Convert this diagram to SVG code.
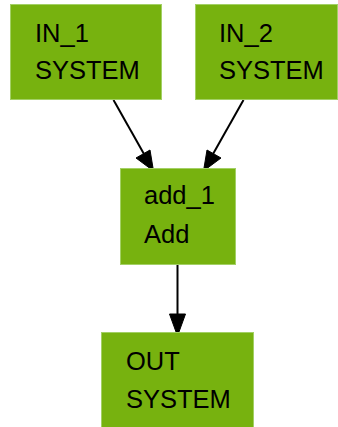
<svg xmlns="http://www.w3.org/2000/svg" width="338" height="427" viewBox="0 0 338 427">
<defs>
<style>
.node rect{fill:#77b20f;stroke:#a3d065;stroke-width:1}
.node text{font-family:"Liberation Sans",Arial,sans-serif;font-size:25.5px;fill:#000}
.edge{stroke:#000;stroke-width:2;fill:none}
.head{fill:#000;stroke:#000;stroke-width:1}
</style>
</defs>
<rect x="0" y="0" width="338" height="427" fill="#fff"/>
<g id="connectors">
<g id="e1"><line class="edge" x1="113.5" y1="100" x2="144" y2="154"/><polygon class="head" points="153.5,171 136,158 150,150"/></g>
<g id="e2"><line class="edge" x1="243.5" y1="100" x2="213" y2="154"/><polygon class="head" points="203.5,171 207,150 221,158"/></g>
<g id="e3"><line class="edge" x1="177.5" y1="265" x2="177.5" y2="316"/><polygon class="head" points="177.5,336 169.5,314 185.5,314"/></g>
</g>
<g id="IN_1" class="node"><rect x="10.5" y="4.5" width="151" height="95"/><text x="35" y="42">IN_1</text><text x="35" y="79">SYSTEM</text></g>
<g id="IN_2" class="node"><rect x="195.5" y="4.5" width="142" height="95"/><text x="219" y="42">IN_2</text><text x="219" y="79">SYSTEM</text></g>
<g id="add_1" class="node"><rect x="120.5" y="168.5" width="115" height="96"/><text x="144" y="204">add_1</text><text x="144" y="243">Add</text></g>
<g id="OUT" class="node"><rect x="101.5" y="332.5" width="152" height="96"/><text x="126" y="370">OUT</text><text x="126" y="408">SYSTEM</text></g>
</svg>
